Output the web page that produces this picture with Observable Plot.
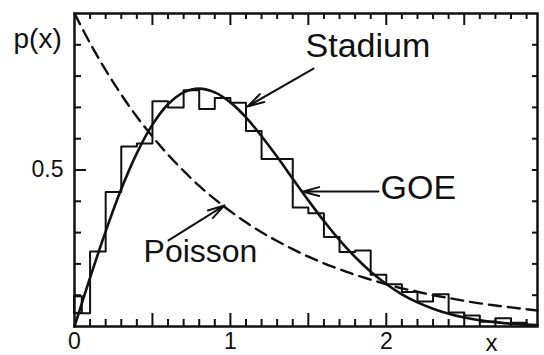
<!DOCTYPE html>
<html>
<head>
<meta charset="utf-8">
<script src="https://cdn.jsdelivr.net/npm/d3@7"></script>
<script src="https://cdn.jsdelivr.net/npm/@observablehq/plot@0.6"></script>
<style>
  html, body { margin: 0; padding: 0; background: #fff; }
</style>
</head>
<body>
<div id="chart"></div>
<script>
// ---- data ----
// sample positions for the smooth curves
const curveX = [0,0.1,0.2,0.3,0.4,0.5,0.6,0.7,0.8,0.9,1.0,1.1,1.2,1.3,1.4,1.5,1.6,1.7,1.8,1.9,2.0,2.1,2.2,2.3,2.4,2.5,2.6,2.7,2.8,2.9,2.97];
// GOE (solid) curve values
const goeY = [0,0.156,0.304,0.439,0.554,0.645,0.710,0.748,0.760,0.748,0.716,0.668,0.608,0.542,0.472,0.403,0.337,0.276,0.222,0.175,0.136,0.103,0.077,0.057,0.041,0.029,0.020,0.014,0.009,0.006,0.005];
// Poisson (dashed) curve values
const poissonY = [1.000,0.905,0.819,0.741,0.670,0.607,0.549,0.497,0.449,0.407,0.368,0.333,0.301,0.273,0.247,0.223,0.202,0.183,0.165,0.150,0.135,0.122,0.111,0.100,0.091,0.082,0.074,0.067,0.061,0.055,0.051];
// Stadium histogram: bin starts and heights (bin width 0.1)
const binStart = [0,0.1,0.2,0.3,0.4,0.5,0.6,0.7,0.8,0.9,1.0,1.1,1.2,1.3,1.4,1.5,1.6,1.7,1.8,1.9,2.0,2.1,2.2,2.3,2.4,2.5,2.6,2.7,2.8,2.9];
const binHeight = [0.042,0.24,0.43,0.575,0.585,0.72,0.70,0.755,0.695,0.73,0.715,0.625,0.535,0.535,0.38,0.362,0.286,0.238,0.243,0.165,0.135,0.11,0.08,0.103,0.045,0.035,0.015,0.026,0.012,0.005];
const histEnd = 2.97;
// small extra box in the first bin
const firstBox = [{x1: 0, x2: 0.05, y1: 0.042, y2: 0.095}];
// axis ticks and tick labels
const xDomain = [0, 2.97];
const yDomain = [0, 1];
const xMinorTicks = [0.1,0.2,0.3,0.4,0.6,0.7,0.8,0.9,1.1,1.2,1.3,1.4,1.6,1.7,1.8,1.9,2.1,2.2,2.3,2.4,2.6,2.7,2.8,2.9];
const xMajorTicks = [0.5,1,1.5,2,2.5];
const xTickLabels = [0,1,2];
const yMinorTicks = [0.1,0.2,0.3,0.4,0.6,0.7,0.8,0.9];
const yMajorTicks = [0.5];
const yTickLabels = [0.5];
// annotations (data coordinates)
const labelText = ["Stadium","GOE","Poisson"];
const labelX = [1.482, 1.963, 0.443];
const labelY = [0.895, 0.4425, 0.238];
const labelSize = [34, 34, 32];
const arrowX1 = [1.533, 1.95, 0.603];
const arrowY1 = [0.824, 0.431, 0.275];
const arrowX2 = [1.11, 1.462, 0.962];
const arrowY2 = [0.703, 0.431, 0.387];
const yAxisTitle = {text: "p(x)", x: -0.391, y: 0.918};
const xAxisTitle = {text: "x", x: 2.675, y: -0.054};

// ---- build tables ----
const goe = curveX.map((x, i) => ({x, y: goeY[i]}));
const poisson = curveX.map((x, i) => ({x, y: poissonY[i]}));
const hist = binStart.map((x, i) => ({x, y: binHeight[i]}));
hist.push({x: histEnd, y: binHeight[binHeight.length - 1]});
const labels = labelText.map((t, i) => ({t, x: labelX[i], y: labelY[i], s: labelSize[i]}));
const arrows = arrowX1.map((x1, i) => ({x1, y1: arrowY1[i], x2: arrowX2[i], y2: arrowY2[i]}));

const ink = "#111";
const font = "Liberation Sans, Arial, sans-serif";

const W = 544, H = 355;
const mL = 74, mR = 7, mT = 13, mB = 29;
const FW = W - mL - mR, FH = H - mT - mB;

// inward ticks drawn as short rules hugging each side of the frame
const tickBottom = (v, len) => Plot.ruleX(v, {x: d => d, insetTop: FH - len, stroke: ink, strokeWidth: 2});
const tickTop = (v, len) => Plot.ruleX(v, {x: d => d, insetBottom: FH - len, stroke: ink, strokeWidth: 2});
const tickLeft = (v, len) => Plot.ruleY(v, {y: d => d, insetRight: FW - len, stroke: ink, strokeWidth: 2});
const tickRight = (v, len) => Plot.ruleY(v, {y: d => d, insetLeft: FW - len, stroke: ink, strokeWidth: 2});

const chart = Plot.plot({
  width: W,
  height: H,
  marginLeft: mL,
  marginRight: mR,
  marginTop: mT,
  marginBottom: mB,
  // implicit axes carry only the tick labels
  x: {domain: xDomain, ticks: xTickLabels, tickSize: 0, tickPadding: 6, label: null, tickFormat: d => String(d)},
  y: {domain: yDomain, ticks: yTickLabels, tickSize: 0, tickPadding: 11, label: null, tickFormat: d => String(d)},
  style: {fontFamily: font, fontSize: "23px", color: ink, background: "#fff", overflow: "visible"},
  marks: [
    // curves
    Plot.line(poisson, {x: "x", y: "y", curve: "catmull-rom", stroke: ink, strokeWidth: 2.4, strokeDasharray: "12,7"}),
    Plot.line(hist, {x: "x", y: "y", curve: "step-after", stroke: ink, strokeWidth: 2}),
    Plot.rect(firstBox, {x1: "x1", x2: "x2", y1: "y1", y2: "y2", fill: "none", stroke: ink, strokeWidth: 2}),
    Plot.line(goe, {x: "x", y: "y", curve: "catmull-rom", stroke: ink, strokeWidth: 2.6}),
    // annotations
    Plot.arrow(arrows, {x1: "x1", y1: "y1", x2: "x2", y2: "y2", stroke: ink, strokeWidth: 2, headLength: 13, headAngle: 30}),
    Plot.text(labels, {x: "x", y: "y", text: "t", fontSize: "s", textAnchor: "start", lineAnchor: "middle", fill: ink, fontFamily: font}),
    Plot.text([yAxisTitle], {x: "x", y: "y", text: "text", fontSize: 28, textAnchor: "start", lineAnchor: "middle", fill: ink, fontFamily: font}),
    Plot.text([xAxisTitle], {x: "x", y: "y", text: "text", fontSize: 24, textAnchor: "middle", lineAnchor: "middle", fill: ink, fontFamily: font}),
    Plot.frame({stroke: ink, strokeWidth: 2.5}),
    // inward ticks
    tickBottom(xMinorTicks, 7),
    tickBottom(xMajorTicks, 13),
    tickTop(xMinorTicks, 6),
    tickTop(xMajorTicks, 12),
    tickLeft(yMinorTicks, 7),
    tickLeft(yMajorTicks, 12),
    tickRight(yMinorTicks.concat(yMajorTicks), 5)
  ]
});
document.getElementById("chart").appendChild(chart);
</script>
</body>
</html>
